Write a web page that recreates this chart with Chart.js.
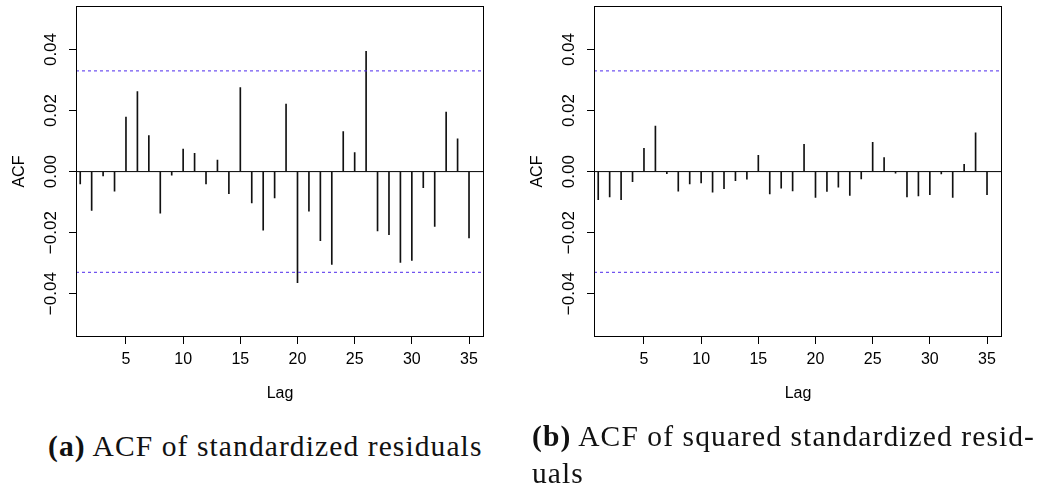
<!DOCTYPE html>
<html>
<head>
<meta charset="utf-8">
<script src="https://cdn.jsdelivr.net/npm/chart.js@4.4.1/dist/chart.umd.min.js"></script>
<style>
  html, body { margin: 0; padding: 0; background: #fff; }
  body { width: 1037px; height: 495px; position: relative; overflow: hidden; }
  .panel { position: absolute; top: 0; width: 510px; height: 420px; }
  .cap { position: absolute; font-family: 'Liberation Serif', 'Times New Roman', serif; font-size: 29.5px; letter-spacing: 1.1px; color: #111; white-space: nowrap; line-height: 37px; }
  .cap b { font-weight: bold; }
</style>
</head>
<body>
<div class="panel" style="left:0"><canvas id="c1"></canvas></div>
<div class="panel" style="left:518px"><canvas id="c2"></canvas></div>
<div class="cap" style="left:48px; top:428px;"><b>(a)</b> ACF of standardized residuals</div>
<div class="cap" style="left:532px; top:418px;"><b>(b)</b> ACF of squared standardized resid-<br>uals</div>
<script>
// ---- data ----
const lags = [1,2,3,4,5,6,7,8,9,10,11,12,13,14,15,16,17,18,19,20,21,22,23,24,25,26,27,28,29,30,31,32,33,34,35];
const acfResid = [-0.0040,-0.0127,-0.0014,-0.0064,0.0179,0.0262,0.0118,-0.0136,-0.0012,0.0074,
                  0.0060,-0.0040,0.0038,-0.0072,0.0275,-0.0103,-0.0192,-0.0086,0.0221,-0.0364,
                  -0.0130,-0.0226,-0.0304,0.0131,0.0062,0.0394,-0.0194,-0.0207,-0.0298,-0.0291,
                  -0.0053,-0.0180,0.0195,0.0107,-0.0217];
const acfSquared = [-0.0092,-0.0083,-0.0092,-0.0033,0.0076,0.0149,-0.0007,-0.0064,-0.0040,-0.0037,
                    -0.0067,-0.0056,-0.0030,-0.0025,0.0053,-0.0073,-0.0054,-0.0063,0.0089,-0.0085,
                    -0.0065,-0.0051,-0.0078,-0.0024,0.0096,0.0046,-0.0005,-0.0083,-0.0080,-0.0076,
                    -0.0008,-0.0085,0.0024,0.0127,-0.0076];
const ciBound = 0.033;
const xTicks = [5,10,15,20,25,30,35];
const yTicks = [-0.04,-0.02,0,0.02,0.04];
const xRange = [0.63, 36.31];
const yRange = [-0.0542, 0.0542];

Chart.defaults.font.family = "'Liberation Sans', Arial, Helvetica, sans-serif";
Chart.defaults.font.size = 16;
Chart.defaults.color = '#000';

const boxPlugin = {
  id: 'box',
  afterDraw(chart) {
    const {ctx, chartArea: a} = chart;
    ctx.save();
    ctx.strokeStyle = '#000';
    ctx.lineWidth = 1;
    ctx.strokeRect(Math.round(a.left) + 0.5, Math.round(a.top) + 0.5,
                   Math.round(a.right - a.left) - 1, Math.round(a.bottom - a.top) - 1);
    ctx.restore();
  }
};

function fmtY(v) {
  const s = Math.abs(v).toFixed(2);
  return v < 0 ? '\u2212' + s : s;
}

function makeChart(id, values) {
  const ciColor = 'rgb(78,42,236)';
  return new Chart(document.getElementById(id), {
    type: 'bar',
    data: {
      datasets: [
        { type: 'line', data: [{x: xRange[0], y: 0}, {x: xRange[1], y: 0}], borderColor: '#000', borderWidth: 1, pointRadius: 0, order: 3 },
        { type: 'line', data: [{x: xRange[0], y: ciBound}, {x: xRange[1], y: ciBound}], borderColor: ciColor, borderWidth: 1, borderDash: [3,3], pointRadius: 0, order: 1 },
        { type: 'line', data: [{x: xRange[0], y: -ciBound}, {x: xRange[1], y: -ciBound}], borderColor: ciColor, borderWidth: 1, borderDash: [3,3], pointRadius: 0, order: 1 },
        { type: 'bar', data: lags.map((l, i) => ({x: l, y: values[i]})), backgroundColor: '#111', borderWidth: 0, barThickness: 1, order: 2 }
      ]
    },
    options: {
      responsive: true,
      maintainAspectRatio: false,
      animation: false,
      events: [],
      layout: { padding: { left: 0, top: 4, right: 26, bottom: 0 } },
      plugins: { legend: { display: false }, tooltip: { enabled: false } },
      scales: {
        x: {
          type: 'linear', min: xRange[0], max: xRange[1], offset: false,
          afterBuildTicks: s => { s.ticks = xTicks.map(v => ({value: v})); },
          afterFit: s => { s.height = 83; },
          border: { display: false },
          grid: { offset: false, drawOnChartArea: false, drawTicks: true, tickLength: 7, color: '#000', lineWidth: 1 },
          ticks: { maxRotation: 0, minRotation: 0, autoSkip: false, padding: 6, color: '#000' },
          title: { display: true, text: 'Lag', color: '#000', padding: { top: 0, bottom: 17 } }
        },
        y: {
          type: 'linear', min: yRange[0], max: yRange[1],
          afterBuildTicks: s => { s.ticks = yTicks.map(v => ({value: v})); },
          afterFit: s => { s.width = 76; },
          border: { display: false },
          grid: { drawOnChartArea: false, drawTicks: true, tickLength: 7, color: '#000', lineWidth: 1 },
          ticks: { minRotation: 90, maxRotation: 90, crossAlign: 'center', autoSkip: false, padding: -4, color: '#000', font: { size: 17 }, callback: fmtY },
          title: { display: true, text: 'ACF', color: '#000', padding: { top: 10, bottom: 0 } }
        }
      }
    },
    plugins: [boxPlugin]
  });
}

makeChart('c1', acfResid);
makeChart('c2', acfSquared);
</script>
</body>
</html>
